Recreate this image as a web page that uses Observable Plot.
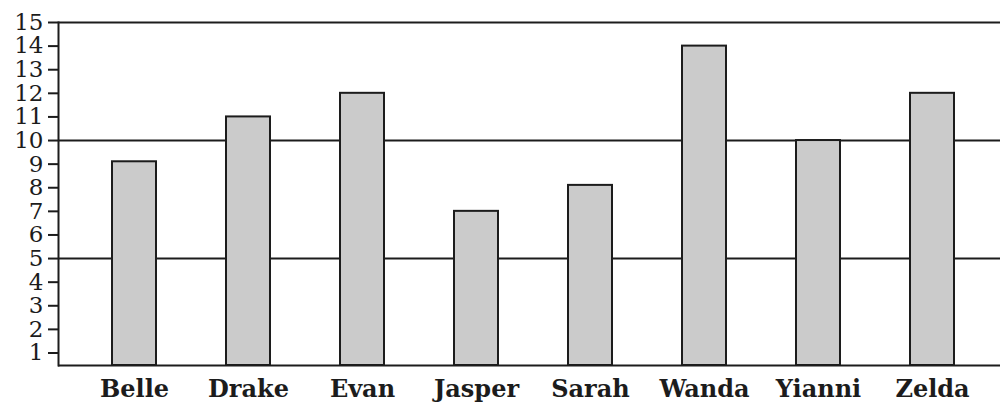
<!DOCTYPE html>
<html>
<head>
<meta charset="utf-8">
<script src="https://cdn.jsdelivr.net/npm/d3@7"></script>
<script src="https://cdn.jsdelivr.net/npm/@observablehq/plot@0.6"></script>
<style>
  html, body { margin: 0; padding: 0; background: #fff; }
  #chart svg { display: block; }
</style>
</head>
<body>
<div id="chart"></div>
<script>
const names = ["Belle", "Drake", "Evan", "Jasper", "Sarah", "Wanda", "Yianni", "Zelda"];
const values = [9.1, 11, 12, 7, 8.1, 14, 10, 12];
const yTicks = [1, 2, 3, 4, 5, 6, 7, 8, 9, 10, 11, 12, 13, 14, 15];
const gridLines = [5, 10, 15];
const yMin = 0.47;
const yMax = 15;

const data = names.map((n, i) => ({name: n, value: values[i]}));
const ink = "#1c1c1c";

const chart = Plot.plot({
  width: 1000,
  height: 402,
  marginLeft: 58,
  marginRight: 0,
  marginTop: 22,
  marginBottom: 37,
  style: {fontFamily: "'DejaVu Serif', serif", fontSize: "23px", color: ink, background: "#fff"},
  x: {domain: names, paddingInner: 0.615, paddingOuter: 0.418, align: 0.54, label: null},
  y: {domain: [yMin, yMax], label: null},
  marks: [
    Plot.ruleY(gridLines, {stroke: ink, strokeWidth: 2}),
    Plot.ruleY([yMin], {stroke: ink, strokeWidth: 2}),
    Plot.barY(data, {x: "name", y1: yMin, y2: "value", fill: "#cbcbcb", stroke: ink, strokeWidth: 2}),
    Plot.frame({anchor: "left", stroke: ink, strokeWidth: 2}),
    Plot.axisY(yTicks, {tickSize: 10, tickPadding: 5, strokeWidth: 2, stroke: ink, fill: ink, fontSize: 23, tickFormat: d => String(d), label: null}),
    Plot.axisX({tickSize: 0, tickPadding: 14, fill: ink, fontSize: 24, fontWeight: "bold", label: null})
  ]
});
document.getElementById("chart").appendChild(chart);
</script>
</body>
</html>
